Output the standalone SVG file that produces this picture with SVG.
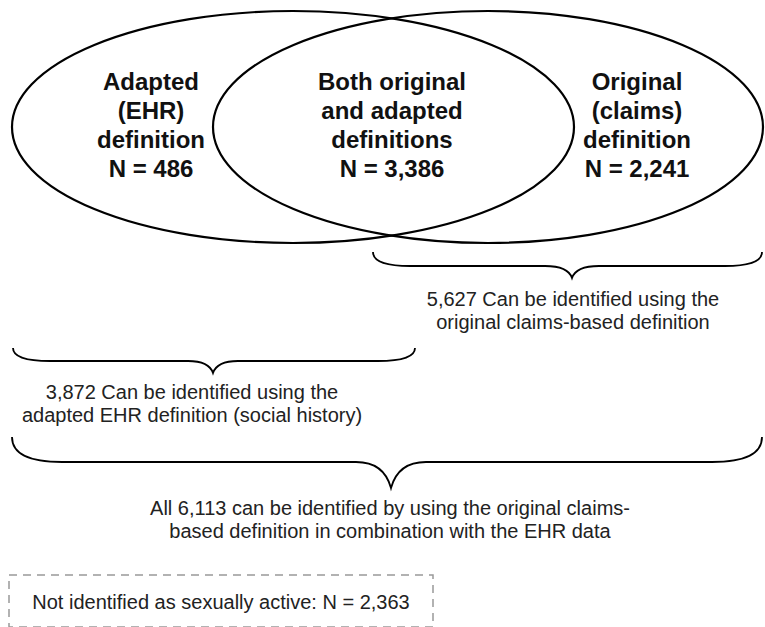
<svg xmlns="http://www.w3.org/2000/svg" width="765" height="627" viewBox="0 0 765 627">
<style>
.ell{fill:none;stroke:#000;stroke-width:2.2}
.brace{fill:none;stroke:#000;stroke-width:1.8}
.lbl{font-family:"Liberation Sans",Arial,sans-serif;font-weight:bold;font-size:24px;fill:#111;text-anchor:middle}
.txt{font-family:"Liberation Sans",Arial,sans-serif;font-size:20px;fill:#222;text-anchor:middle}
.dash{fill:none;stroke:#999;stroke-width:1.5;stroke-dasharray:8 6}
</style>
<rect width="765" height="627" fill="#fff"/>
<g id="venn-left">
<ellipse class="ell" cx="293" cy="127" rx="281" ry="116"/>
</g>
<g id="venn-right">
<ellipse class="ell" cx="488" cy="127" rx="275" ry="116"/>
</g>
<g id="label-adapted">
<text class="lbl" x="151" y="90">Adapted</text>
<text class="lbl" x="151" y="119">(EHR)</text>
<text class="lbl" x="151" y="148">definition</text>
<text class="lbl" x="151" y="177">N = 486</text>
</g>
<g id="label-both">
<text class="lbl" x="392" y="90">Both original</text>
<text class="lbl" x="392" y="119">and adapted</text>
<text class="lbl" x="392" y="148">definitions</text>
<text class="lbl" x="392" y="177">N = 3,386</text>
</g>
<g id="label-original">
<text class="lbl" x="637" y="90">Original</text>
<text class="lbl" x="637" y="119">(claims)</text>
<text class="lbl" x="637" y="148">definition</text>
<text class="lbl" x="637" y="177">N = 2,241</text>
</g>
<g id="connectors">
<path class="brace" d="M373 252 Q373 266 410 266 L545 266 Q568 266 572 278 Q576 266 599 266 L725 266 Q762 266 762 252"/>
<path class="brace" d="M13 348 Q13 361 50 361 L188 361 Q209 361 213 373 Q217 361 238 361 L378 361 Q415 361 415 348"/>
<path class="brace" d="M12 437 Q12 462 62 462 L356 462 Q384 462 391 488 Q398 462 426 462 L712 462 Q762 462 762 437"/>
</g>
<g id="text-claims">
<text class="txt" x="573" y="306">5,627 Can be identified using the</text>
<text class="txt" x="573" y="329">original claims-based definition</text>
</g>
<g id="text-ehr">
<text class="txt" x="192" y="399">3,872 Can be identified using the</text>
<text class="txt" x="192" y="422">adapted EHR definition (social history)</text>
</g>
<g id="text-all">
<text class="txt" x="390" y="515">All 6,113 can be identified by using the original claims-</text>
<text class="txt" x="390" y="538">based definition in combination with the EHR data</text>
</g>
<g id="not-identified">
<rect class="dash" x="9" y="575" width="424" height="52"/>
<text class="txt" x="221" y="609">Not identified as sexually active: N = 2,363</text>
</g>
</svg>
